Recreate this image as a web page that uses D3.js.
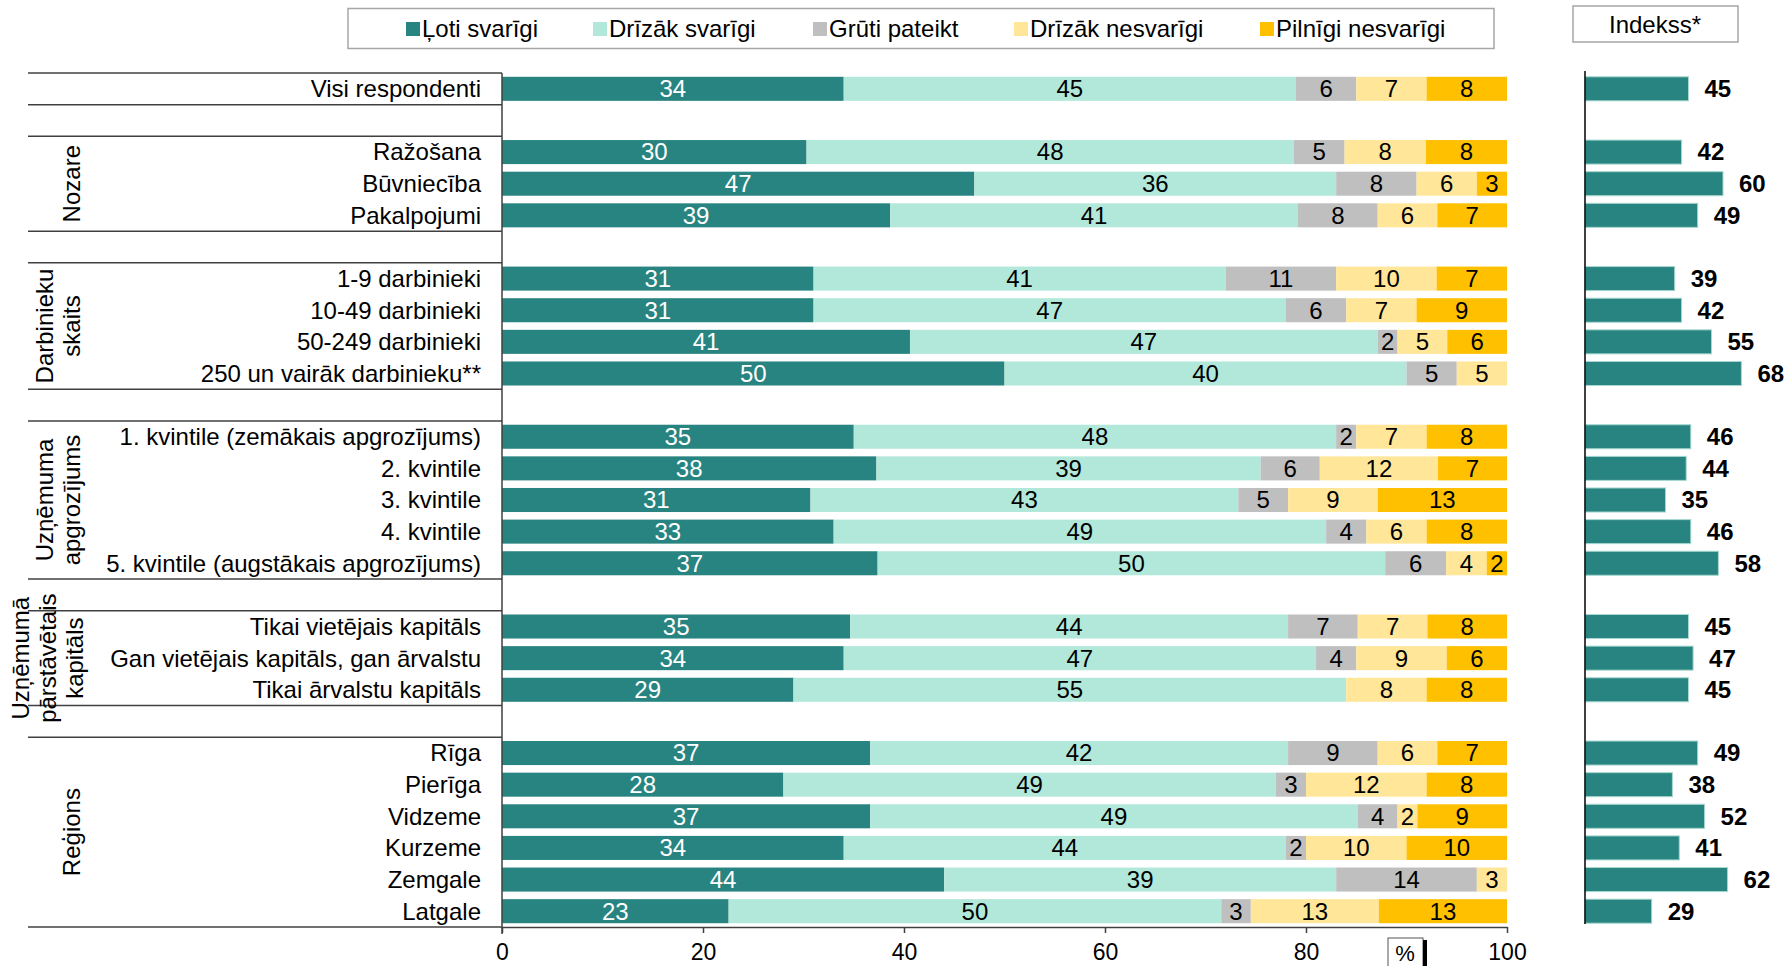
<!DOCTYPE html>
<html><head><meta charset="utf-8">
<script src="https://cdn.jsdelivr.net/npm/d3@7"></script>
<style>
body{margin:0;background:#fff;}
svg{display:block;font-family:"Liberation Sans",Arial,sans-serif;}
</style>
</head><body>
<svg id="c" width="1785" height="966"></svg>
<script>
// ---- DATA ----
const categories = ["Visi respondenti",
  "Ražošana","Būvniecība","Pakalpojumi",
  "1-9 darbinieki","10-49 darbinieki","50-249 darbinieki","250 un vairāk darbinieku**",
  "1. kvintile (zemākais apgrozījums)","2. kvintile","3. kvintile","4. kvintile","5. kvintile (augstākais apgrozījums)",
  "Tikai vietējais kapitāls","Gan vietējais kapitāls, gan ārvalstu","Tikai ārvalstu kapitāls",
  "Rīga","Pierīga","Vidzeme","Kurzeme","Zemgale","Latgale"];
const groupIndex = [0,1,1,1,2,2,2,2,3,3,3,3,3,4,4,4,5,5,5,5,5,5];
const groupLabels = [[],["Nozare"],["Darbinieku","skaits"],["Uzņēmuma","apgrozījums"],["Uzņēmumā","pārstāvētais","kapitāls"],["Reģions"]];
const seriesNames = ["Ļoti svarīgi","Drīzāk svarīgi","Grūti pateikt","Drīzāk nesvarīgi","Pilnīgi nesvarīgi"];
const lotiSvarigi      = [34,30,47,39,31,31,41,50,35,38,31,33,37,35,34,29,37,28,37,34,44,23];
const drizakSvarigi    = [45,48,36,41,41,47,47,40,48,39,43,49,50,44,47,55,42,49,49,44,39,50];
const grutiPateikt     = [6,5,8,8,11,6,2,5,2,6,5,4,6,7,4,0,9,3,4,2,14,3];
const drizakNesvarigi  = [7,8,6,6,10,7,5,5,7,12,9,6,4,7,9,8,6,12,2,10,3,13];
const pilnigiNesvarigi = [8,8,3,7,7,9,6,0,8,7,13,8,2,8,6,8,7,8,9,10,0,13];
const indekss          = [45,42,60,49,39,42,55,68,46,44,35,46,58,45,47,45,49,38,52,41,62,29];
const xTicks = [0,20,40,60,80,100];
const indexTitle = "Indekss*";
const unitLabel = "%";

// ---- STYLE / LAYOUT ----
const colors = ["#288480","#b2e8da","#bfbfbf","#ffe699","#ffc000"];
const labelColors = ["#ffffff","#000","#000","#000","#000"];
const lineColor = "#404040";
const svg = d3.select("#c");

// slots with gaps between groups
const slots = [];
categories.forEach((c,i)=>{
  if(i>0 && groupIndex[i]!==groupIndex[i-1]) slots.push("gap"+i);
  slots.push(c);
});
const y = d3.scaleBand().domain(slots).range([73,927]).paddingInner(0.24).paddingOuter(0.12);
const x = d3.scaleLinear().domain([0,100]).range([502,1507]);
const xi = d3.scaleLinear().domain([0,100]).range([1585,1815]);
const half = (y.step()-y.bandwidth())/2;

const series = [lotiSvarigi,drizakSvarigi,grutiPateikt,drizakNesvarigi,pilnigiNesvarigi];
const table = categories.map((c,i)=>{
  const o = {cat:c};
  seriesNames.forEach((s,k)=>o[s]=series[k][i]);
  return o;
});
const stack = d3.stack().keys(seriesNames).offset(d3.stackOffsetExpand)(table);

// bars
const gBars = svg.append("g");
stack.forEach((layer,k)=>{
  gBars.selectAll(null).data(layer).enter().append("rect")
    .attr("x",d=>x(d[0]*100)).attr("width",d=>x(d[1]*100)-x(d[0]*100))
    .attr("y",d=>y(d.data.cat)).attr("height",y.bandwidth())
    .attr("fill",colors[k]);
  gBars.selectAll(null).data(layer.filter(d=>d.data[seriesNames[k]]>0)).enter().append("text")
    .attr("x",d=>x((d[0]+d[1])/2*100)).attr("y",d=>y(d.data.cat)+y.bandwidth()/2)
    .attr("dy","0.35em").attr("text-anchor","middle")
    .attr("font-size",24).attr("fill",labelColors[k])
    .text(d=>d.data[seriesNames[k]]);
});

// category labels
svg.append("g").selectAll("text").data(categories).enter().append("text")
  .attr("x",481).attr("y",d=>y(d)+y.bandwidth()/2).attr("dy","0.35em")
  .attr("text-anchor","end").attr("font-size",24).attr("fill","#000").text(d=>d);

// group separator lines & group labels
const nGroups = groupLabels.length;
for(let g=0; g<nGroups; g++){
  const cats = categories.filter((c,i)=>groupIndex[i]===g);
  const top = y(cats[0]) - half;
  const bot = y(cats[cats.length-1]) + y.bandwidth() + half;
  [top,bot].forEach(yy=>{
    svg.append("line").attr("x1",28).attr("x2",502).attr("y1",yy).attr("y2",yy)
      .attr("stroke",lineColor).attr("stroke-width",1.5);
  });
  const lines = groupLabels[g];
  const n = lines.length;
  const base = n===3 ? 29 : (n===2 ? 53 : 80);
  const cy = (top+bot)/2;
  lines.forEach((t,k)=>{
    svg.append("text").attr("transform",`translate(${base+k*27},${cy}) rotate(-90)`)
      .attr("text-anchor","middle").attr("font-size",24).attr("fill","#000").text(t);
  });
}

// main axis
const axis = svg.append("g").attr("transform","translate(0,927)")
  .call(d3.axisBottom(x).tickValues(xTicks).tickSize(6).tickSizeOuter(0).tickPadding(11));
axis.select(".domain").attr("stroke",lineColor).attr("stroke-width",1.5);
axis.selectAll(".tick line").attr("stroke",lineColor).attr("stroke-width",1.5);
axis.selectAll(".tick text").attr("font-size",23).attr("fill","#000").attr("font-family","'Liberation Sans',Arial,sans-serif");
svg.append("line").attr("x1",x(0)).attr("x2",x(0)).attr("y1",73).attr("y2",934)
  .attr("stroke",lineColor).attr("stroke-width",1.5);

// % box
svg.append("rect").attr("x",1388).attr("y",938).attr("width",35).attr("height",32)
  .attr("fill","#fff").attr("stroke","#555").attr("stroke-width",1);
svg.append("rect").attr("x",1423).attr("y",940).attr("width",4).attr("height",30).attr("fill","#000");
svg.append("text").attr("x",1405).attr("y",961).attr("text-anchor","middle")
  .attr("font-size",22).attr("fill","#000").text(unitLabel);

// legend
svg.append("rect").attr("x",348).attr("y",8.5).attr("width",1146).attr("height",40)
  .attr("fill","#fff").attr("stroke","#a6a6a6").attr("stroke-width",1.5);
const legendX = [406,593,813,1014,1260];
seriesNames.forEach((s,k)=>{
  svg.append("rect").attr("x",legendX[k]).attr("y",22).attr("width",14).attr("height",14).attr("fill",colors[k]);
  svg.append("text").attr("x",legendX[k]+16).attr("y",36.5).attr("font-size",24).attr("fill","#000").text(s);
});

// index panel
svg.append("rect").attr("x",1573).attr("y",6).attr("width",165).attr("height",36)
  .attr("fill","#fff").attr("stroke","#a6a6a6").attr("stroke-width",1.5);
svg.append("text").attr("x",1655).attr("y",33).attr("text-anchor","middle")
  .attr("font-size",24).attr("fill","#000").text(indexTitle);
const gi = svg.append("g");
gi.selectAll("rect").data(categories).enter().append("rect")
  .attr("x",xi(0)).attr("y",d=>y(d)).attr("height",y.bandwidth())
  .attr("width",(d,i)=>xi(indekss[i])-xi(0))
  .attr("fill",colors[0]).attr("stroke","#a8d8d0").attr("stroke-width",1);
gi.selectAll("text").data(categories).enter().append("text")
  .attr("x",(d,i)=>xi(indekss[i])+16).attr("y",d=>y(d)+y.bandwidth()/2).attr("dy","0.35em")
  .attr("font-size",24).attr("font-weight","bold").attr("fill","#000")
  .text((d,i)=>indekss[i]);
svg.append("line").attr("x1",xi(0)).attr("x2",xi(0)).attr("y1",71).attr("y2",924)
  .attr("stroke","#000").attr("stroke-width",1.5);
</script>
</body></html>
